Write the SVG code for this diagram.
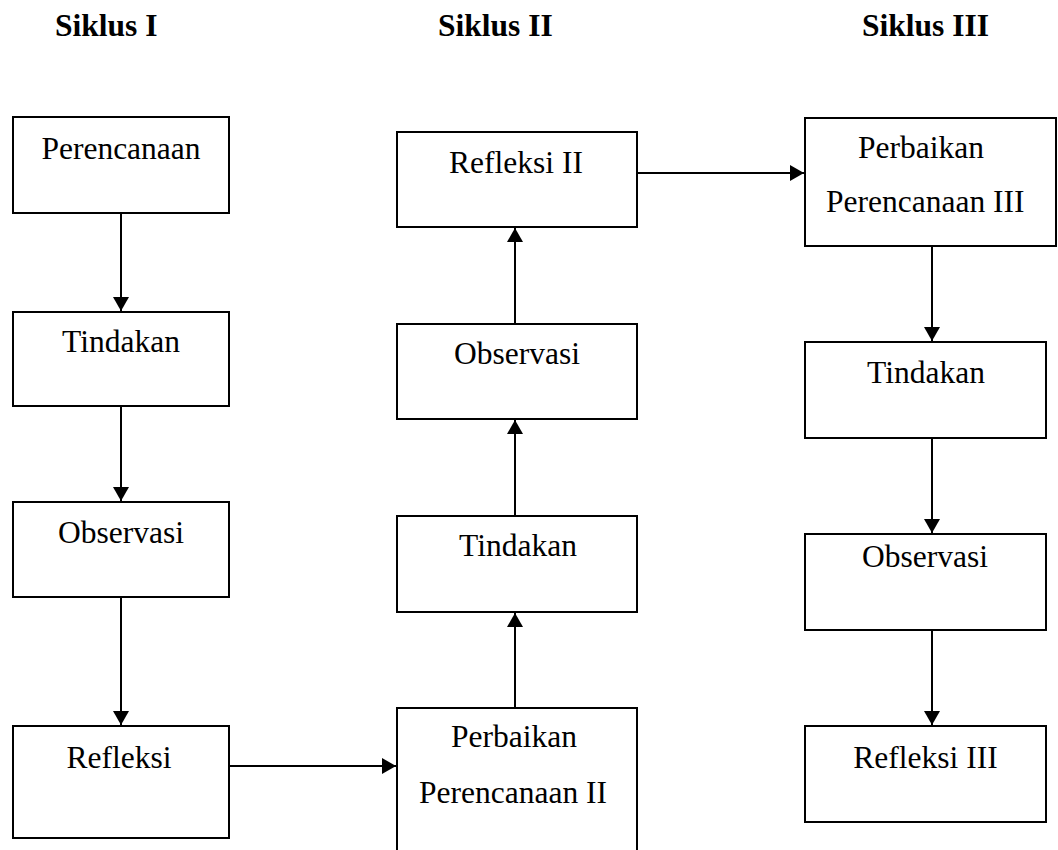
<svg xmlns="http://www.w3.org/2000/svg" width="1058" height="850" viewBox="0 0 1058 850">
<defs>
<style>
.box{fill:#fff;stroke:#000;stroke-width:2}
.t{font-family:"Liberation Serif","Times New Roman",serif;font-size:31.5px;fill:#000;text-anchor:middle}
.s{text-anchor:start}
.h{font-family:"Liberation Serif","Times New Roman",serif;font-size:31.5px;font-weight:bold;fill:#000}
.c{stroke:#000;stroke-width:2;fill:none;marker-end:url(#ah)}
</style>
<marker id="ah" markerUnits="userSpaceOnUse" markerWidth="14" markerHeight="16" refX="14" refY="8" orient="auto">
<path d="M0,0 L14,8 L0,16 z" fill="#000"/>
</marker>
</defs>
<rect width="1058" height="850" fill="#fff"/>
<g id="titles">
<text class="h" x="55" y="36">Siklus I</text>
<text class="h" x="438" y="36">Siklus II</text>
<text class="h" x="862" y="36">Siklus III</text>
</g>
<g id="c1-perencanaan"><rect class="box" x="13" y="117" width="216" height="96"/><text class="t" x="121" y="159">Perencanaan</text></g>
<g id="c1-tindakan"><rect class="box" x="13" y="312" width="216" height="94"/><text class="t" x="121" y="352">Tindakan</text></g>
<g id="c1-observasi"><rect class="box" x="13" y="502" width="216" height="95"/><text class="t" x="121" y="543">Observasi</text></g>
<g id="c1-refleksi"><rect class="box" x="13" y="726" width="216" height="112"/><text class="t" x="119" y="768">Refleksi</text></g>
<g id="c2-perbaikan"><path class="box" d="M397,860 V708 H637 V860"/><text class="t" x="514" y="747">Perbaikan</text><text class="t" x="513" y="803">Perencanaan II</text></g>
<g id="c2-tindakan"><rect class="box" x="397" y="516" width="240" height="96"/><text class="t" x="518" y="556">Tindakan</text></g>
<g id="c2-observasi"><rect class="box" x="397" y="324" width="240" height="95"/><text class="t" x="517" y="364">Observasi</text></g>
<g id="c2-refleksi"><rect class="box" x="397" y="132" width="240" height="95"/><text class="t" x="516" y="173">Refleksi II</text></g>
<g id="c3-perbaikan"><rect class="box" x="805" y="118" width="251" height="128"/><text class="t s" x="858" y="158">Perbaikan</text><text class="t s" x="826" y="212">Perencanaan III</text></g>
<g id="c3-tindakan"><rect class="box" x="805" y="342" width="241" height="96"/><text class="t" x="926" y="383">Tindakan</text></g>
<g id="c3-observasi"><rect class="box" x="805" y="534" width="241" height="96"/><text class="t" x="925" y="567">Observasi</text></g>
<g id="c3-refleksi"><rect class="box" x="805" y="726" width="241" height="96"/><text class="t" x="925.5" y="768">Refleksi III</text></g>
<g id="connectors">
<line class="c" x1="121" y1="213" x2="121" y2="311"/>
<line class="c" x1="121" y1="406" x2="121" y2="501"/>
<line class="c" x1="121" y1="597" x2="121" y2="725"/>
<line class="c" x1="229" y1="766" x2="396" y2="766"/>
<line class="c" x1="515" y1="708" x2="515" y2="613"/>
<line class="c" x1="515" y1="516" x2="515" y2="420"/>
<line class="c" x1="515" y1="324" x2="515" y2="228"/>
<line class="c" x1="637" y1="173" x2="804" y2="173"/>
<line class="c" x1="932" y1="246" x2="932" y2="341"/>
<line class="c" x1="932" y1="438" x2="932" y2="533"/>
<line class="c" x1="932" y1="630" x2="932" y2="725"/>
</g>
</svg>
